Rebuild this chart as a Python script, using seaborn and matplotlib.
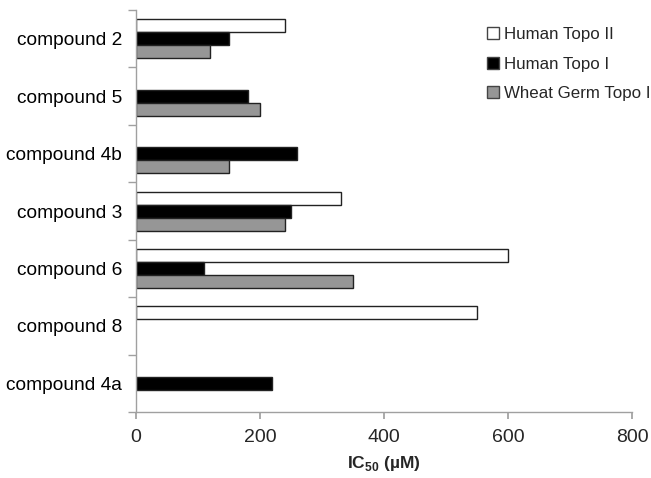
import numpy as np
import pandas as pd
import matplotlib
matplotlib.use("Agg")
import matplotlib.pyplot as plt
import seaborn as sns

# data (IC50 in uM), NaN = no bar
compounds = ["compound 2", "compound 5", "compound 4b", "compound 3",
             "compound 6", "compound 8", "compound 4a"]
human_topo2 = [240, np.nan, np.nan, 330, 600, 550, np.nan]
human_topo1 = [150, 180, 260, 250, 110, np.nan, 220]
wheat_topo1 = [120, 200, 150, 240, 350, np.nan, np.nan]
series = ["Human Topo II", "Human Topo I", "Wheat Germ Topo I"]
colors = ["white", "black", "#969696"]

sns.set_theme(style="white")
plt.rcParams["font.family"] = ["Liberation Sans", "DejaVu Sans"]
plt.rcParams["mathtext.fontset"] = "custom"
plt.rcParams["mathtext.bf"] = "Liberation Sans:bold"

df = pd.DataFrame({
    "compound": compounds * 3,
    "ic50": human_topo2 + human_topo1 + wheat_topo1,
    "enzyme": [s for s in series for _ in compounds],
})

fig = plt.figure(figsize=(6.51, 4.78), dpi=100)
ax = fig.add_axes([0.209, 0.138, 0.762, 0.841])

sns.barplot(data=df, y="compound", x="ic50", hue="enzyme", orient="h",
            hue_order=series, palette=colors, width=0.68, gap=0,
            edgecolor="#222222", linewidth=1.0, errorbar=None, ax=ax)

ax.set_xlim(0, 800)
ax.set_ylim(6.5, -0.5)
ax.set_xticks([0, 200, 400, 600, 800])
ax.set_ylabel("")
ax.set_xlabel(r"IC$_\mathbf{50}$ (µM)", fontsize=12.5, fontweight="bold", labelpad=6)

# category ticks sit between the groups
ax.set_yticks(np.arange(-0.5, 7, 1), minor=True)
ax.tick_params(axis="y", which="major", length=0, labelsize=13.8, pad=10, colors="black")
ax.tick_params(axis="y", which="minor", length=6, direction="out", color="#a0a0a0", left=True)
ax.tick_params(axis="x", length=5, direction="out", color="#a0a0a0", labelsize=14, pad=7, bottom=True)

for s in ["top", "right"]:
    ax.spines[s].set_visible(False)
for s in ["left", "bottom"]:
    ax.spines[s].set_color("#a0a0a0")
    ax.spines[s].set_linewidth(1.0)

leg = ax.legend(loc="upper right", bbox_to_anchor=(1.068, 0.995), frameon=False,
                fontsize=12.2, handlelength=0.7, handleheight=0.7,
                handletextpad=0.3, labelspacing=0.85)
for h in leg.legend_handles:
    h.set_edgecolor("#444444")

fig.savefig("out.png", dpi=100)
